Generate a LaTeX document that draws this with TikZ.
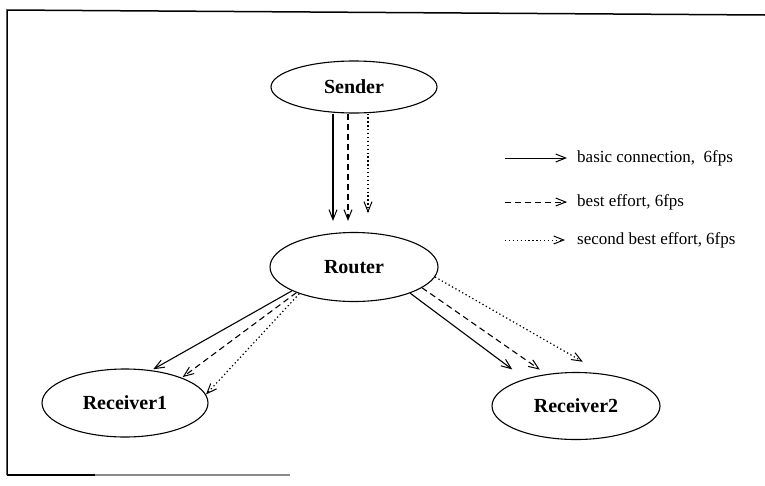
\documentclass[tikz,border=0pt]{standalone}
\usepackage{fontspec}
\setmainfont{Liberation Serif}
\usetikzlibrary{shapes.geometric,arrows.meta}
\begin{document}
\begin{tikzpicture}[x=1pt,y=-1pt,
  box/.style={draw,ellipse,line width=1.1pt,inner sep=0pt,font=\bfseries\fontsize{20}{24}\selectfont},
  conn/.style={line width=1.1pt,-{Straight Barb[length=10pt,width=8pt,line width=1pt]}},
  dashconn/.style={conn,dash pattern=on 6pt off 4pt},
  dotconn/.style={conn,line width=1.2pt,dash pattern=on 1.3pt off 2.6pt},
  legtext/.style={anchor=west,inner sep=0pt,font=\fontsize{17}{20}\selectfont},
  frame/.style={line width=1.5pt}]
\useasboundingbox (0,0) rectangle (765,485);
% frame (scanned, partly faded)
\draw[frame] (7,475) -- (7,10) -- (765,15);
\draw[frame] (7,475) -- (95,475);
\draw[line width=1.2pt,black!45] (95,475) -- (290,475);
% nodes
\node[box,minimum width=166pt,minimum height=52pt] (S) at (354,87) {Sender\hspace{14pt}};
\node[box,minimum width=168pt,minimum height=69pt] (R) at (354,267) {Router\hspace{13pt}};
\node[box,minimum width=166pt,minimum height=68pt] (A) at (125,403) {Receiver1\hspace{14pt}};
\node[box,minimum width=168pt,minimum height=67pt] (B) at (576,406) {Receiver2\hspace{18pt}};
% sender -> router
\draw[conn,shorten >=11pt] ([xshift=-21pt]S.south) -- ([xshift=-21pt]R.north);
\draw[dashconn,shorten >=11pt] ([xshift=-6pt]S.south) -- ([xshift=-6pt]R.north);
\draw[dotconn,shorten >=19pt] ([xshift=14pt]S.south) -- ([xshift=14pt]R.north);
% router -> receiver1
\draw[conn,shorten >=2pt] (R.201) -- (A.51);
\draw[dashconn,shorten >=1pt] (R.204.5) -- (A.24.5);
\draw[dotconn] (R.206.6) -- (A.6.9);
% router -> receiver2
\draw[conn,shorten >=15.8pt] (R.335.9) -- (B.152.9);
\draw[dashconn,shorten >=7.9pt] (R.343.8) -- (B.133.3);
\draw[dotconn,shorten >=24.4pt] (R.353.1) -- (B.49.6);
% legend
\node[legtext] (L1) at (577,158) {basic connection,\ \ 6fps};
\node[legtext] (L2) at (577,202) {best effort, 6fps};
\node[legtext] (L3) at (577,240) {second best effort, 6fps};
\coordinate (l1) at (505,158);
\coordinate (l2) at (505,202);
\coordinate (l3) at (505,240);
\draw[conn,line width=0.9pt,shorten >=10pt] (l1) -- (L1.west);
\draw[dashconn,line width=0.9pt,shorten >=10pt] (l2) -- (L2.west);
\draw[dotconn,line width=1pt,shorten >=12pt] (l3) -- (L3.west);
\end{tikzpicture}
\end{document}
